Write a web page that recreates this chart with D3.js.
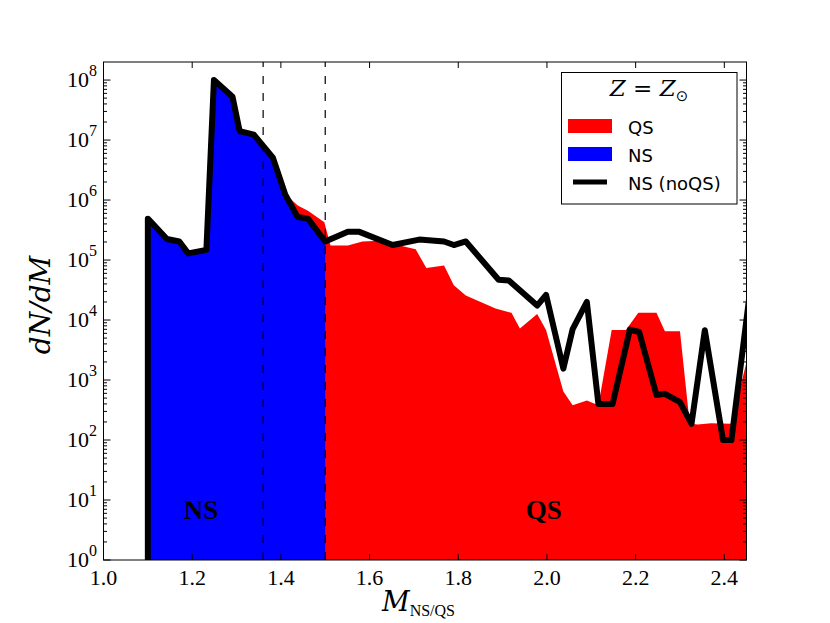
<!DOCTYPE html>
<html><head><meta charset="utf-8">
<script src="https://cdn.jsdelivr.net/npm/d3@7"></script>
<style>body{margin:0;background:#fff}</style>
</head><body>
<svg id="c" width="830" height="623"></svg>
<script>
// NS (noQS) line: mass vs dN/dM
const noqsMass = [1.100, 1.100, 1.143, 1.171, 1.191, 1.232, 1.249, 1.291, 1.307, 1.339, 1.382, 1.410, 1.438, 1.461, 1.500,
                  1.551, 1.577, 1.652, 1.712, 1.768, 1.790, 1.817, 1.891, 1.914, 1.978, 1.998, 2.037, 2.058, 2.090,
                  2.116, 2.148, 2.187, 2.208, 2.247, 2.266, 2.300, 2.326, 2.356, 2.397, 2.416, 2.460];
const noqsVals = [0.1, 4.9e5, 2.24e5, 2.04e5, 1.29e5, 1.48e5, 1.0e8, 5.25e7, 1.41e7, 1.23e7, 5.1e6, 1.23e6, 5.2e5, 4.9e5, 2.04e5,
                  2.95e5, 2.95e5, 1.78e5, 2.19e5, 2.04e5, 1.78e5, 2.04e5, 4.68e4, 4.57e4, 1.74e4, 2.63e4, 1.55e3, 7.08e3, 2.0e4,
                  398, 398, 6.92e3, 6.31e3, 562, 589, 427, 186, 6.76e3, 100, 100, 4.0e4];
// QS distribution (filled red)
const qsMass = [1.410, 1.438, 1.461, 1.498, 1.512, 1.551, 1.584, 1.622, 1.704, 1.728, 1.768, 1.790, 1.817, 1.884, 1.920,
                1.939, 1.978, 1.998, 2.037, 2.058, 2.090, 2.116, 2.146, 2.178, 2.206, 2.247, 2.266, 2.300, 2.322, 2.340,
                2.370, 2.416, 2.460];
const qsVals = [1.26e6, 8.1e5, 6.6e5, 4.27e5, 1.74e5, 1.74e5, 2.04e5, 2.09e5, 1.51e5, 7.4e4, 8.1e4, 3.8e4, 2.57e4, 1.55e4, 1.32e4,
                7.2e3, 1.26e4, 6.8e3, 646, 380, 457, 380, 6.8e3, 6.8e3, 1.32e4, 1.32e4, 6.5e3, 6.5e3, 186, 182,
                190, 186, 4.0e3];
const nsMaxMass = 1.5;
const dividers = [1.36, 1.5];
const xTicks = [1.0, 1.2, 1.4, 1.6, 1.8, 2.0, 2.2, 2.4];
const yExps = [0, 1, 2, 3, 4, 5, 6, 7, 8];
const legendLabels = ["QS", "NS", "NS (noQS)"];
const regionLabels = [{text: "NS", m: 1.22}, {text: "QS", m: 1.993}];

const svg = d3.select("#c");
const L = 103.5, R = 746.5, T = 62, B = 560;
const x = d3.scaleLinear().domain([1.0, 2.45]).range([L, R]);
const y = d3.scaleLog().domain([1, 2e8]).range([B, T]);

svg.append("defs").append("clipPath").attr("id", "clip")
  .append("rect").attr("x", L).attr("y", T).attr("width", R - L).attr("height", B - T);
const g = svg.append("g").attr("clip-path", "url(#clip)");

const qs = qsMass.map((m, i) => [m, qsVals[i]]);
const noqs = noqsMass.map((m, i) => [m, noqsVals[i]]);
const ns = noqs.filter(d => d[0] <= nsMaxMass && d[1] >= 1);

const area = d3.area().x(d => x(d[0])).y0(y(0.01)).y1(d => y(d[1]));
g.append("path").datum(qs).attr("d", area).attr("fill", "#ff0000");
g.append("path").datum(ns).attr("d", area).attr("fill", "#0000ff");

g.selectAll("line.div").data(dividers).join("line")
  .attr("x1", d => x(d)).attr("x2", d => x(d)).attr("y1", B).attr("y2", T)
  .attr("stroke", "#000").attr("stroke-width", 1.2).attr("stroke-dasharray", "8,9");

const line = d3.line().x(d => x(d[0])).y(d => y(d[1]));
g.append("path").datum(noqs).attr("d", line).attr("fill", "none")
  .attr("stroke", "#000").attr("stroke-width", 6).attr("stroke-linejoin", "round");

// region labels
svg.selectAll("text.reg").data(regionLabels).join("text")
  .attr("x", d => x(d.m)).attr("y", 519).attr("text-anchor", "middle")
  .attr("font-family", "Liberation Serif").attr("font-weight", "bold").attr("font-size", 27)
  .text(d => d.text);

// frame
svg.append("rect").attr("x", L).attr("y", T).attr("width", R - L).attr("height", B - T)
  .attr("fill", "none").attr("stroke", "#000").attr("stroke-width", 1);

// x ticks
const tk = svg.append("g").attr("stroke", "#000").attr("stroke-width", 1);
xTicks.forEach(t => {
  tk.append("line").attr("x1", x(t)).attr("x2", x(t)).attr("y1", B).attr("y2", B - 6);
  tk.append("line").attr("x1", x(t)).attr("x2", x(t)).attr("y1", T).attr("y2", T + 6);
});
svg.selectAll("text.xt").data(xTicks).join("text")
  .attr("x", d => x(d)).attr("y", 585).attr("text-anchor", "middle")
  .attr("font-family", "Liberation Serif").attr("font-size", 22)
  .text(d => d3.format(".1f")(d));

// y ticks
yExps.forEach(e => {
  const v = Math.pow(10, e);
  tk.append("line").attr("x1", L).attr("x2", L + 7).attr("y1", y(v)).attr("y2", y(v));
  tk.append("line").attr("x1", R).attr("x2", R - 7).attr("y1", y(v)).attr("y2", y(v));
  if (e < 8) {
    for (let k = 2; k <= 9; k++) {
      const mv = k * v;
      tk.append("line").attr("x1", L).attr("x2", L + 3.5).attr("y1", y(mv)).attr("y2", y(mv));
      tk.append("line").attr("x1", R).attr("x2", R - 3.5).attr("y1", y(mv)).attr("y2", y(mv));
    }
  }
});
const yl = svg.selectAll("text.yt").data(yExps).join("text")
  .attr("x", 97).attr("y", d => y(Math.pow(10, d)) + 7).attr("text-anchor", "end")
  .attr("font-family", "Liberation Serif").attr("font-size", 22);
yl.append("tspan").text("10");
yl.append("tspan").attr("dy", -11).attr("font-size", 16).text(d => d);

// axis labels
const ylab = svg.append("text").attr("transform", "translate(50,305) rotate(-90)")
  .attr("text-anchor", "middle").attr("font-family", "DejaVu Serif").attr("font-style", "italic")
  .attr("font-size", 28);
ylab.text("dN/dM");

const xlab = svg.append("text").attr("x", 382).attr("y", 611)
  .attr("font-family", "DejaVu Serif").attr("font-size", 27);
xlab.append("tspan").attr("font-style", "italic").text("M");
xlab.append("tspan").attr("dy", 5).attr("font-size", 16).attr("font-family", "Liberation Serif").text("NS/QS");

// legend
const lg = svg.append("g");
lg.append("rect").attr("x", 561.5).attr("y", 72.5).attr("width", 175.5).attr("height", 131.5)
  .attr("fill", "#fff").attr("stroke", "#000").attr("stroke-width", 1);
const title = lg.append("text").attr("x", 649).attr("y", 96).attr("text-anchor", "middle")
  .attr("font-family", "DejaVu Serif").attr("font-size", 23);
title.append("tspan").attr("font-style", "italic").text("Z");
title.append("tspan").text(" = ");
title.append("tspan").attr("font-style", "italic").text("Z");
title.append("tspan").attr("dy", 5).attr("font-size", 15).attr("font-family", "DejaVu Sans").text("\u2299");

const colors = ["#ff0000", "#0000ff", "#000"];
legendLabels.forEach((lab, i) => {
  const cy = 126 + i * 28;
  if (i < 2) {
    lg.append("rect").attr("x", 568).attr("y", cy - 7).attr("width", 44).attr("height", 14).attr("fill", colors[i]);
  } else {
    lg.append("line").attr("x1", 573).attr("x2", 607).attr("y1", cy).attr("y2", cy)
      .attr("stroke", "#000").attr("stroke-width", 5);
  }
  lg.append("text").attr("x", 628).attr("y", cy + 7.5)
    .attr("font-family", "DejaVu Sans").attr("font-size", 18).text(lab);
});
</script>
</body></html>
